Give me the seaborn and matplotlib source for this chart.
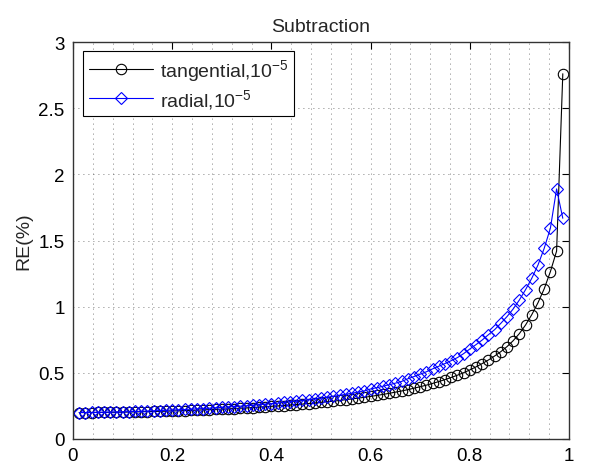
import numpy as np
import pandas as pd
import seaborn as sns
import matplotlib.pyplot as plt
from matplotlib.ticker import MultipleLocator

# posiciones x (radio normalizado)
x = [0.0125, 0.025, 0.0375, 0.05, 0.0625, 0.075, 0.0875, 0.1, 0.1125, 0.125,
     0.1375, 0.15, 0.1625, 0.175, 0.1875, 0.2, 0.2125, 0.225, 0.2375, 0.25,
     0.2625, 0.275, 0.2875, 0.3, 0.3125, 0.325, 0.3375, 0.35, 0.3625, 0.375,
     0.3875, 0.4, 0.4125, 0.425, 0.4375, 0.45, 0.4625, 0.475, 0.4875, 0.5,
     0.5125, 0.525, 0.5375, 0.55, 0.5625, 0.575, 0.5875, 0.6, 0.6125, 0.625,
     0.6375, 0.65, 0.6625, 0.675, 0.6875, 0.7, 0.7125, 0.725, 0.7375, 0.75,
     0.7625, 0.775, 0.7875, 0.8, 0.8125, 0.825, 0.8375, 0.85, 0.8625, 0.875,
     0.8875, 0.9, 0.9125, 0.925, 0.9375, 0.95, 0.9625, 0.975, 0.9875]

tangencial = [0.200, 0.200, 0.200, 0.201, 0.201, 0.202, 0.202, 0.203, 0.204, 0.205,
              0.206, 0.207, 0.208, 0.209, 0.210, 0.212, 0.213, 0.215, 0.216, 0.218,
              0.220, 0.222, 0.224, 0.226, 0.228, 0.230, 0.233, 0.235, 0.238, 0.241,
              0.244, 0.247, 0.250, 0.253, 0.257, 0.260, 0.264, 0.268, 0.272, 0.277,
              0.281, 0.286, 0.291, 0.297, 0.303, 0.309, 0.315, 0.322, 0.329, 0.337,
              0.345, 0.354, 0.363, 0.373, 0.384, 0.395, 0.407, 0.420, 0.434, 0.449,
              0.465, 0.482, 0.501, 0.522, 0.545, 0.570, 0.597, 0.627, 0.660, 0.698,
              0.743, 0.797, 0.862, 0.940, 1.030, 1.135, 1.265, 1.420, 2.760]

radial = [0.200, 0.200, 0.201, 0.201, 0.202, 0.203, 0.204, 0.205, 0.206, 0.208,
          0.209, 0.211, 0.213, 0.215, 0.217, 0.219, 0.221, 0.223, 0.225, 0.228,
          0.230, 0.233, 0.236, 0.239, 0.242, 0.245, 0.248, 0.251, 0.255, 0.259,
          0.263, 0.267, 0.271, 0.276, 0.281, 0.286, 0.291, 0.297, 0.303, 0.309,
          0.316, 0.323, 0.330, 0.338, 0.346, 0.355, 0.364, 0.378, 0.388, 0.399,
          0.410, 0.422, 0.435, 0.455, 0.472, 0.490, 0.508, 0.530, 0.550, 0.570,
          0.592, 0.615, 0.645, 0.680, 0.713, 0.748, 0.788, 0.826, 0.874, 0.925,
          0.983, 1.051, 1.129, 1.215, 1.315, 1.441, 1.593, 1.890, 1.668]

etiquetas_x = ['0', '0.2', '0.4', '0.6', '0.8', '1']
ticks_x = [0, 0.2, 0.4, 0.6, 0.8, 1]
etiquetas_y = ['0', '0.5', '1', '1.5', '2', '2.5', '3']
ticks_y = [0, 0.5, 1, 1.5, 2, 2.5, 3]

sns.set_style('white')
plt.rcParams['font.family'] = ['Liberation Sans', 'DejaVu Sans']
plt.rcParams['mathtext.fontset'] = 'custom'
plt.rcParams['mathtext.rm'] = 'Liberation Sans'
plt.rcParams['mathtext.it'] = 'Liberation Sans:italic'

df = pd.DataFrame({'x': x, 'tangencial': tangencial, 'radial': radial})

fig = plt.figure(figsize=(6.01, 4.77), dpi=100)
ax = fig.add_axes([73 / 601, 37 / 477, 496 / 601, 397 / 477])

sns.lineplot(data=df, x='x', y='tangencial', ax=ax, color='black', lw=0.8,
             marker='o', markersize=7.5, markerfacecolor='none',
             markeredgecolor='black', markeredgewidth=0.8,
             label='tangential,10$^{-5}$')
sns.lineplot(data=df, x='x', y='radial', ax=ax, color='blue', lw=0.8,
             marker='D', markersize=6.5, markerfacecolor='none',
             markeredgecolor='blue', markeredgewidth=0.8,
             label='radial,10$^{-5}$')

ax.set_xlim(0, 1)
ax.set_ylim(0, 3)
ax.set_xticks(ticks_x)
ax.set_xticklabels(etiquetas_x)
ax.set_yticks(ticks_y)
ax.set_yticklabels(etiquetas_y)
ax.xaxis.set_minor_locator(MultipleLocator(0.04))

ax.grid(True, which='major', axis='both', color='#555555', lw=0.6, ls=(0, (1, 5)))
ax.grid(True, which='minor', axis='x', color='#555555', lw=0.6, ls=(0, (1, 5)))
ax.tick_params(which='major', direction='in', length=5, width=0.8,
               top=True, right=True, labelsize=13.5, colors='black', pad=6)
ax.tick_params(which='minor', length=0, top=True, right=True)

for s in ax.spines.values():
    s.set_visible(True)
    s.set_color('#333333')
    s.set_linewidth(1.0)

ax.set_xlabel('')
ax.set_ylabel('RE(%)', fontsize=14)
ax.set_title('Subtraction', fontsize=14, pad=8)

leg = ax.legend(loc='upper left', bbox_to_anchor=(0.02, 0.977), borderaxespad=0,
                fontsize=14, frameon=True, fancybox=False, framealpha=1,
                edgecolor='black', handlelength=3.3, handletextpad=0.35,
                borderpad=0.3, labelspacing=0.2)
leg.get_frame().set_linewidth(0.8)

plt.savefig('out.png', dpi=100)
